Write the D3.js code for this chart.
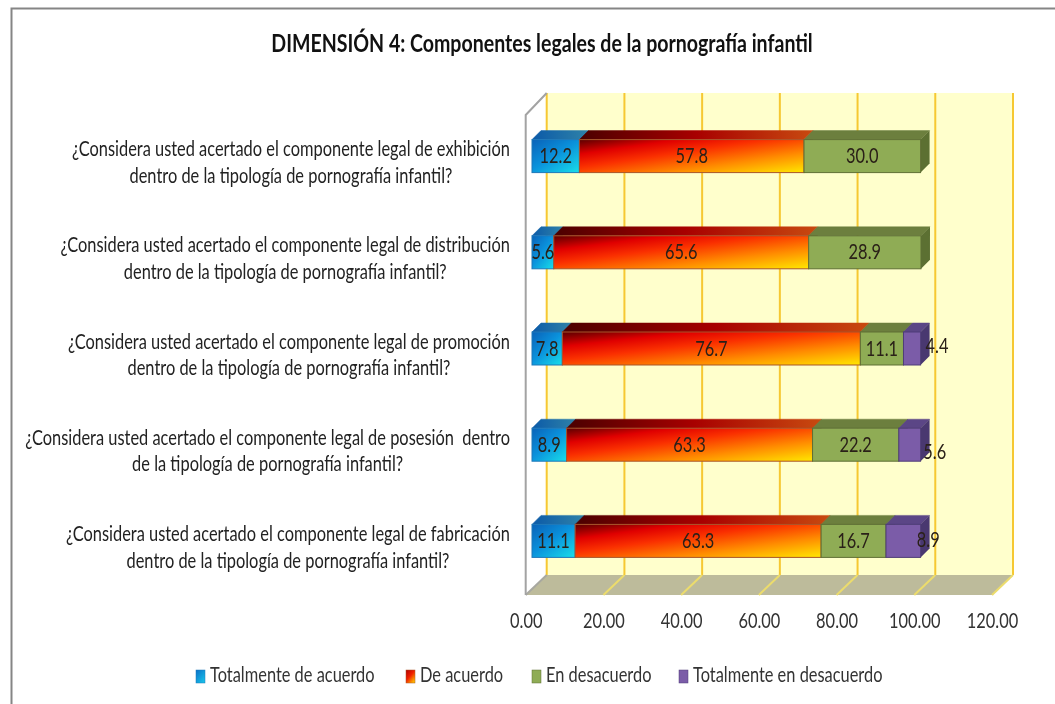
<!DOCTYPE html>
<html><head><meta charset="utf-8">
<script src="https://cdn.jsdelivr.net/npm/d3@7/dist/d3.min.js"></script>
<style>
html,body{margin:0;padding:0;background:#fff}
svg{display:block;filter:blur(0.35px)}
text{font-family:Lato,"Open Sans",sans-serif;fill:#222}
</style></head><body>
<script>
const title = "DIMENSIÓN 4: Componentes legales de la pornografía infantil";
const questions = ["exhibición","distribución","promoción","posesión","fabricación"];
const labelLines = [
  ["¿Considera usted acertado el componente legal de exhibición","dentro de la tipología de pornografía infantil?"],
  ["¿Considera usted acertado el componente legal de distribución","dentro de la tipología de pornografía infantil?"],
  ["¿Considera usted acertado el componente legal de promoción","dentro de la tipología de pornografía infantil?"],
  ["¿Considera usted acertado el componente legal de posesión  dentro","de la tipología de pornografía infantil?"],
  ["¿Considera usted acertado el componente legal de fabricación","dentro de la tipología de pornografía infantil?"]
];
const seriesNames = ["Totalmente de acuerdo","De acuerdo","En desacuerdo","Totalmente en desacuerdo"];
const totalmenteAcuerdo = [12.2,5.6,7.8,8.9,11.1];
const deAcuerdo = [57.8,65.6,76.7,63.3,63.3];
const enDesacuerdo = [30.0,28.9,11.1,22.2,16.7];
const totalmenteDesacuerdo = [0,0,4.4,5.6,8.9];
const tickValues = [0,20,40,60,80,100,120];

const W=1055,H=704;
const svg=d3.select("body").append("svg").attr("width",W).attr("height",H).attr("viewBox",[0,0,W,H]);
const defs=svg.append("defs");
function grad(id,stops,x2,y2){
  const g=defs.append("linearGradient").attr("id",id).attr("x1",0).attr("y1",0).attr("x2",x2).attr("y2",y2);
  stops.forEach(s=>g.append("stop").attr("offset",s[0]).attr("stop-color",s[1]));
}
grad("fBlue",[[0,"#0a62b8"],[.5,"#0a92dc"],[1,"#18d8e8"]],.9,1);
grad("fRed",[[0,"#5a0000"],[.22,"#e00000"],[.42,"#fa3000"],[.7,"#ff8c00"],[1,"#ffe800"]],1,1);
grad("tBlue",[[0,"#0b5aa8"],[1,"#2f82a8"]],1,0);
grad("tRed",[[0,"#4a0000"],[.5,"#a80000"],[1,"#c84a10"]],1,0);
grad("lBlue",[[0,"#0a70c8"],[1,"#18c0e8"]],.8,1);
grad("lRed",[[0,"#b00000"],[.5,"#f02000"],[1,"#ffc000"]],.8,1);

const styles=[
 {front:"url(#fBlue)",top:"url(#tBlue)",side:"#0b5aa8",stroke:"#1f78b8",leg:"url(#lBlue)"},
 {front:"url(#fRed)",top:"url(#tRed)",side:"#b03a10",stroke:"#a8552a",leg:"url(#lRed)"},
 {front:"#8fac55",top:"#6c7f3e",side:"#5c7032",stroke:"#5f6f35",leg:"#8fac55"},
 {front:"#7b5ca8",top:"#5b4686",side:"#493870",stroke:"#4f3d78",leg:"#7b5ca8"}
];

// 3-D frame
const wallLeft=546.7, wallW=466.3, wallTop=93, wallBottom=575;
const x=d3.scaleLinear().domain([0,120]).range([0,wallW]);
const y=d3.scaleBand().domain(questions).range([108,589]).paddingInner(.657).paddingOuter(.3285);
const floorDx=-21, floorDy=20;
const barX=532, barDepth=9;

svg.append("path").attr("d","M11.5,704V8.5H1055").attr("fill","none").attr("stroke","#858585").attr("stroke-width",2);

svg.append("rect").attr("x",wallLeft).attr("y",wallTop).attr("width",wallW).attr("height",wallBottom-wallTop).attr("fill","#ffffcc");
svg.append("polygon").attr("points",[[wallLeft,wallBottom],[wallLeft+wallW,wallBottom],[wallLeft+wallW+floorDx,wallBottom+floorDy],[wallLeft+floorDx,wallBottom+floorDy]].join(" ")).attr("fill","#bdbb9b");
// gridlines
svg.append("g").selectAll("line").data(tickValues).join("line")
  .attr("x1",d=>wallLeft+x(d)).attr("x2",d=>wallLeft+x(d)).attr("y1",wallTop).attr("y2",wallBottom)
  .attr("stroke","#f6c832").attr("stroke-width",2);
svg.append("g").selectAll("line").data(tickValues).join("line")
  .attr("x1",d=>wallLeft+x(d)).attr("x2",d=>wallLeft+x(d)+floorDx).attr("y1",wallBottom).attr("y2",wallBottom+floorDy)
  .attr("stroke",d=>d===0?"#a8a8a0":"#ecdc6c").attr("stroke-width",2);
// left side wall edges
svg.append("path").attr("d",`M${wallLeft},${wallTop}L${wallLeft+floorDx},${wallTop+22}V${wallBottom+floorDy}`)
  .attr("fill","none").attr("stroke","#a3a3a3").attr("stroke-width",2);

// bars
const rows=questions.map((q,i)=>({q,a:totalmenteAcuerdo[i],b:deAcuerdo[i],c:enDesacuerdo[i],d:totalmenteDesacuerdo[i]}));
const stack=d3.stack().keys(["a","b","c","d"])(rows);
const bars=svg.append("g");
stack.forEach((ser,si)=>{
  const st=styles[si];
  const g=bars.append("g");
  ser.forEach(s=>{
    if(s[1]-s[0]<=0) return;
    const q=s.data.q, x0=barX+x(s[0]), x1=barX+x(s[1]), yt=y(q), yb=yt+y.bandwidth(), d=barDepth;
    g.append("polygon").attr("points",[[x0,yt],[x0+d,yt-d],[x1+d,yt-d],[x1,yt]].join(" ")).attr("fill",st.top).attr("stroke",st.top).attr("stroke-width",.5);
    g.append("polygon").attr("points",[[x1,yt],[x1+d,yt-d],[x1+d,yb-d],[x1,yb]].join(" ")).attr("fill",st.side);
    g.append("rect").attr("x",x0).attr("y",yt).attr("width",x1-x0).attr("height",yb-yt).attr("fill",st.front).attr("stroke",st.stroke).attr("stroke-width",1);
  });
});

// text, condensed like the original face
const condense=.80;
const fs=20.5;
function narrow(sel,k=condense){
  sel.each(function(){
    this.setAttribute("textLength",this.getComputedTextLength()*k);
    this.setAttribute("lengthAdjust","spacingAndGlyphs");
  });
  return sel;
}
// data labels
const lastDx=25, rowDy={posesión:7,fabricación:-1,promoción:-3};
const labels=svg.append("g").attr("font-size",fs).attr("text-anchor","middle");
stack.forEach((ser,si)=>{
  ser.forEach(s=>{
    const v=s[1]-s[0];
    if(v<=0) return;
    const q=s.data.q;
    const cx=barX+x((s[0]+s[1])/2)+(si===3?lastDx:0);
    const cy=y(q)+y.bandwidth()/2+(si===3?(rowDy[q]||0):0);
    narrow(labels.append("text").attr("x",cx).attr("y",cy).attr("dy",".35em").style("fill","#2a2018").text(v.toFixed(1)));
  });
});
// category labels
const cat=svg.append("g").attr("font-size",fs).attr("text-anchor","middle");
questions.forEach((q,i)=>{
  const cy=y(q)+y.bandwidth()/2;
  const lines=labelLines[i];
  const first=narrow(cat.append("text").attr("y",cy-7).attr("dy",".35em").style("white-space","pre").text(lines[0]));
  const w=first.node().getComputedTextLength();
  const cxv=510-w/2;
  first.attr("x",cxv);
  narrow(cat.append("text").attr("x",cxv).attr("y",cy+19.5).attr("dy",".35em").text(lines[1]));
});
// axis labels via the scale
const axisX=wallLeft+floorDx;
const axisG=svg.append("g").attr("transform",`translate(${axisX},621)`)
  .call(d3.axisBottom(x).tickValues(tickValues).tickFormat(d3.format(".2f")).tickSize(0).tickPadding(0));
axisG.select(".domain").remove();
axisG.selectAll("text").attr("y",0).attr("dy",".35em").attr("font-size",fs).style("font-family","Lato").style("fill","#333");
narrow(axisG.selectAll("text"));
// title
narrow(svg.append("text").attr("x",542).attr("y",44).attr("dy",".35em").attr("text-anchor","middle")
  .attr("font-size",24).attr("font-weight",700).style("fill","#111").text(title),.815);
// legend
const legX=d3.scaleOrdinal().domain(seriesNames).range([196,406,532,679]);
const leg=svg.append("g");
seriesNames.forEach((n,i)=>{
  const lx=legX(n);
  leg.append("rect").attr("x",lx).attr("y",670).attr("width",9).attr("height",13).attr("fill",styles[i].leg).attr("stroke",styles[i].stroke).attr("stroke-width",.5);
  narrow(leg.append("text").attr("x",lx+14).attr("y",675).attr("dy",".35em").attr("font-size",fs).style("fill","#333").text(n));
});
</script>
</body></html>
